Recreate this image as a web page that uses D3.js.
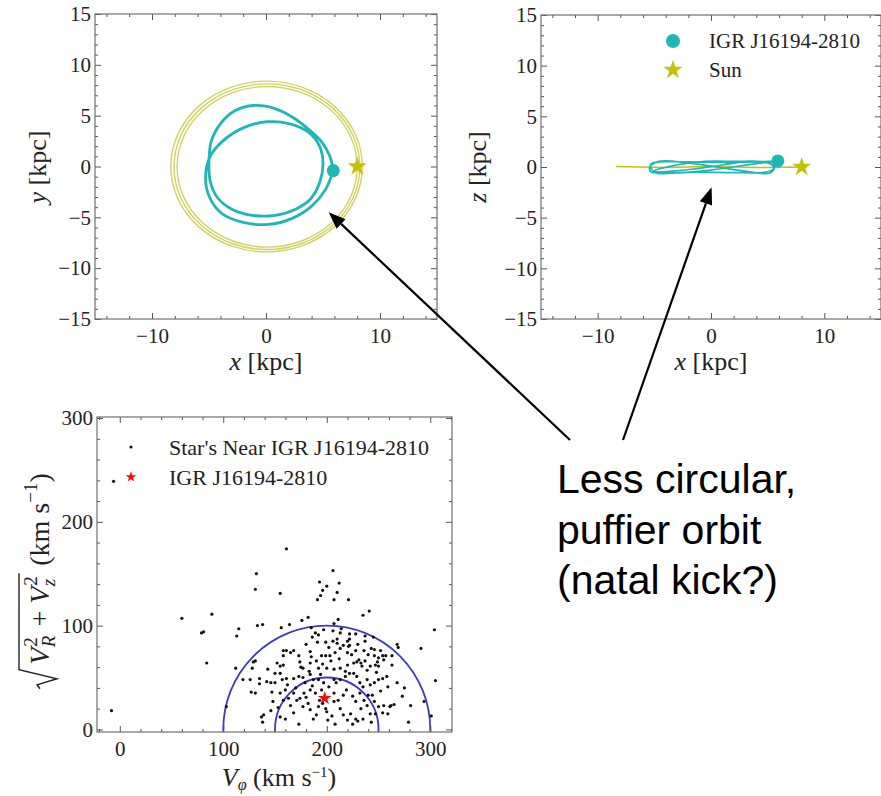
<!DOCTYPE html>
<html lang="en">
<head>
<meta charset="UTF-8" />
<title>IGR J16194-2810 orbit</title>
<script src="https://cdn.jsdelivr.net/npm/d3@7"></script>
<style>
  body { margin: 0; background: #fff; }
  svg text { font-family: "Liberation Serif", "DejaVu Serif", serif; white-space: pre; }
</style>
</head>
<body>
<svg id="fig" width="881" height="796"></svg>
<script>
// ---- data ----
// cyan orbit, x-y plane [kpc]
var orbitXY = [
  [5.9,-0.4],[5.6,1.0],[4.9,2.4],[3.8,3.6],[2.4,4.8],[0.8,5.7],[-1.1,6.0],[-2.7,5.5],
  [-4.0,4.2],[-4.8,2.5],[-5.0,0.6],[-4.9,-1.4],[-4.3,-3.0],[-3.0,-4.2],[-1.2,-4.8],
  [0.8,-4.8],[2.6,-4.2],[3.9,-3.2],[4.7,-1.6],[5.0,0.3],[4.7,2.0],[3.7,3.4],[2.1,4.2],
  [0.1,4.4],[-2.0,3.8],[-3.8,2.5],[-4.9,1.0],[-5.3,-1.0],[-5.0,-2.9],[-3.9,-4.6],
  [-2.0,-5.5],[0.2,-5.7],[2.3,-5.1],[4.0,-3.9],[5.2,-2.3],[5.9,-0.4]
];
// cyan orbit, x-z plane [kpc]
var orbitXZ = [
  [5.9,0.6],[4.0,0.5],[1.0,0.45],[-2.0,0.5],[-4.5,0.5],[-5.3,0.3],[-5.2,-0.3],[-4.0,-0.55],
  [-1.0,-0.5],[2.0,-0.55],[4.8,-0.5],[5.5,-0.2],[5.3,0.3],[3.5,0.55],[1.0,0.2],[-1.5,-0.2],
  [-4.0,-0.45],[-5.3,-0.5],[-5.4,0.0],[-4.6,0.55],[-2.0,0.4],[0.5,0.0],[3.0,-0.4],[5.2,-0.6],
  [5.6,0.0],[4.6,0.5],[2.0,0.55],[-0.5,0.55],[-3.0,0.2],[-5.0,-0.4],[-4.8,-0.6],[-2.5,-0.55],
  [0.0,-0.3],[2.5,0.1],[4.8,0.45],[5.9,0.6]
];
// Sun orbit rings in x-y (centre x, centre y, radius) and its x-z track
var sunRingCx = [0.05, 0.08, 0.1];
var sunRingCy = [0.0, -0.02, -0.03];
var sunRingR  = [8.4, 8.15, 7.9];
var sunXZ = [[-8.4,0.05],[-4,-0.05],[0,0.05],[4,-0.05],[8.4,0.0]];
// current positions
var igrNow = { x: 5.9, y: -0.4, z: 0.6 };
var sunNow = { x: 8.0, y: 0.0, z: 0.0 };

// velocity panel: [V_phi, sqrt(V_R^2+V_z^2)] in km/s
var starsNear = [
  [-6,239],[-8,18],
  [161,174],[132,150],[131,135],[155,131],[206,153],[193,142],[200,138],[212,141],[196,134],
  [194,129],[191,125],[210,132],[207,125],[221,125],[241,114],[235,110],
  [60,107],[89,111],[81,94],[79,93],[84,64],[113,90],[115,97],[112,59],
  [133,100],[138,101],[156,98],[164,101],[176,105],[182,108],[185,98],[197,96],[207,102],
  [211,106],[214,97],
  [304,96],[305,47],[291,78],[294,27],[268,82],[269,79],[281,23],[279,7],[301,13],
  [186,89],[192,91],[206,95],[213,93],[222,92],[228,92],[237,90],[245,89],
  [191,84],[199,84],[206,85],[210,83],[216,81],[220,85],[222,87],[237,85],[246,77],[252,76],
  [158,76],[161,76],[165,74],[168,76],[158,71],[173,71],[184,75],[185,70],[195,71],[199,71],
  [203,71],[208,74],[213,78],[220,74],[222,81],[228,76],[231,67],[236,76],[240,72],[246,71],
  [250,69],[254,71],[257,71],
  [152,64],[155,61],[158,62],[174,65],[177,59],[184,64],[192,59],[200,59],[207,58],[213,59],
  [220,62],[226,64],[229,65],[234,61],[237,66],[242,61],[247,62],[250,61],[263,62],
  [126,48],[131,35],[135,49],[142,46],[146,45],[150,45],[155,54],[157,48],[161,49],[168,49],
  [173,51],[177,50],[179,45],[184,53],[187,48],[192,48],[194,53],[197,45],[202,41],[207,48],
  [209,45],[213,48],[218,51],[222,54],[226,54],[229,51],[232,45],[235,41],[239,48],[242,43],
  [246,45],[250,48],[254,49],[259,41],[268,45],[275,40],[273,32],
  [147,36],[155,35],[160,38],[163,30],[168,35],[171,28],[174,30],[178,35],[184,38],[189,35],
  [193,28],[195,38],[207,35],[211,28],[216,33],[219,38],[225,32],[228,27],[232,35],[236,28],
  [240,33],[246,27],[250,22],[255,23],[261,22],[265,24],
  [103,22],[153,21],[155,12],[158,28],[165,23],[168,16],[173,5],[177,22],[182,25],[184,19],
  [187,10],[192,22],[196,25],[199,20],[200,17],[201,9],[207,27],[208,5],[213,20],[216,14],
  [220,9],[223,15],[225,5],[228,10],[230,8],[233,20],[239,23],[242,15],[247,15],[254,16],
  [259,15],[262,23],
  [137,12],[139,14],[138,7],[148,27],
  [119,48],[128,59],[131,66],[127,36],[129,65],
  [189,93],[202,79],[210,87],[221,80],[233,64],[239,57],[249,65],[255,67],[263,71],[258,51],
  [180,82],[175,60],[183,56],[190,66],[196,63],[204,66],[212,68],[218,56],[224,72],[230,82],
  [243,78],[248,55],[252,37],[244,33],[186,42],[180,31],[170,40],[162,43],[150,54],[143,58],
  [135,44],[146,18],[160,10],[190,14],[205,13],[235,10],[243,7]
];
var igrVel = [198, 30];
var velCentre = 200;
var velRadii = [50, 100];

// ticks
var kpcXTicks = [-10, 0, 10];
var kpcYTicks = [-15, -10, -5, 0, 5, 10, 15];
var velTicks = [0, 100, 200, 300];

// ---- figure ----
var cyan = "#1fb6b6", olive = "#c2c20a", ringCol = "#d2d262";
var svg = d3.select("#fig");

var xXY = d3.scaleLinear().domain([-15, 15]).range([95, 437]);
var yXY = d3.scaleLinear().domain([-15, 15]).range([319, 14]);
var xXZ = d3.scaleLinear().domain([-15, 15]).range([541, 881]);
var yXZ = d3.scaleLinear().domain([-15, 15]).range([319, 15]);
var xV = d3.scaleLinear().domain([-22, 321]).range([97, 452]);
var yV = d3.scaleLinear().domain([-2.5, 301]).range([732, 417]);

function minors(lo, hi, step, majors) {
  return d3.range(lo, hi + step / 2, step).filter(function(v) { return majors.indexOf(v) < 0; });
}

function axes(x, y, xMaj, xMin, yMaj, yMin, xPad) {
  var x0 = x.range()[0], x1 = x.range()[1], yb = y.range()[0], yt = y.range()[1];
  var g = svg.append("g");
  function put(axis, tx, ty) {
    var a = g.append("g").attr("transform", "translate(" + tx + "," + ty + ")").call(axis);
    a.select(".domain").remove();
    a.selectAll("line").attr("stroke", "#555").attr("stroke-width", 1);
    a.attr("font-family", null).attr("font-size", null);
    return a;
  }
  put(d3.axisBottom(x).tickValues(xMin).tickSize(-3).tickFormat(""), 0, yb);
  put(d3.axisTop(x).tickValues(xMin).tickSize(-3).tickFormat(""), 0, yt);
  put(d3.axisLeft(y).tickValues(yMin).tickSize(-3).tickFormat(""), x0, 0);
  put(d3.axisRight(y).tickValues(yMin).tickSize(-3).tickFormat(""), x1, 0);
  put(d3.axisBottom(x).tickValues(xMaj).tickSize(-6).tickPadding(xPad), 0, yb);
  put(d3.axisTop(x).tickValues(xMaj).tickSize(-6).tickFormat(""), 0, yt);
  put(d3.axisLeft(y).tickValues(yMaj).tickSize(-6).tickPadding(4), x0, 0);
  put(d3.axisRight(y).tickValues(yMaj).tickSize(-6).tickFormat(""), x1, 0);
  g.selectAll("text").attr("font-size", 21).attr("fill", "#222");
  g.append("rect").attr("x", x0).attr("y", yt).attr("width", x1 - x0).attr("height", yb - yt)
    .attr("fill", "none").attr("stroke", "#707070").attr("stroke-width", 1.2);
}

function clipFor(id, x, y) {
  svg.append("clipPath").attr("id", id).append("rect")
    .attr("x", x.range()[0]).attr("y", y.range()[1])
    .attr("width", x.range()[1] - x.range()[0]).attr("height", y.range()[0] - y.range()[1]);
}
clipFor("cXY", xXY, yXY);
clipFor("cXZ", xXZ, yXZ);
clipFor("cV", xV, yV);

var star = d3.symbol().type(d3.symbolStar);

// ---- panel 1: x-y ----
var p1 = svg.append("g").attr("clip-path", "url(#cXY)");
p1.selectAll("ellipse.ring").data(sunRingR).enter().append("ellipse")
  .attr("class", "ring")
  .attr("cx", function(d, i) { return xXY(sunRingCx[i]); })
  .attr("cy", function(d, i) { return yXY(sunRingCy[i]); })
  .attr("rx", function(d) { return xXY(d) - xXY(0); })
  .attr("ry", function(d) { return yXY(0) - yXY(d); })
  .attr("fill", "none").attr("stroke", ringCol).attr("stroke-width", 1.4);
p1.append("path").datum(orbitXY)
  .attr("d", d3.line().x(function(d) { return xXY(d[0]); }).y(function(d) { return yXY(d[1]); })
    .curve(d3.curveCatmullRom))
  .attr("fill", "none").attr("stroke", cyan).attr("stroke-width", 2.8);
p1.append("circle").attr("cx", xXY(igrNow.x)).attr("cy", yXY(igrNow.y)).attr("r", 6.5).attr("fill", cyan);
p1.append("path").attr("d", star.size(115)())
  .attr("transform", "translate(" + xXY(sunNow.x) + "," + yXY(sunNow.y) + ")").attr("fill", olive);
axes(xXY, yXY, kpcXTicks, minors(-14, 14, 2, kpcXTicks), kpcYTicks, minors(-15, 15, 1, kpcYTicks), 9);

// ---- panel 2: x-z ----
var p2 = svg.append("g").attr("clip-path", "url(#cXZ)");
p2.append("path").datum(sunXZ)
  .attr("d", d3.line().x(function(d) { return xXZ(d[0]); }).y(function(d) { return yXZ(d[1]); }))
  .attr("fill", "none").attr("stroke", olive).attr("stroke-width", 1.5);
p2.append("path").datum(orbitXZ)
  .attr("d", d3.line().x(function(d) { return xXZ(d[0]); }).y(function(d) { return yXZ(d[1]); })
    .curve(d3.curveCatmullRom.alpha(0.5)))
  .attr("fill", "none").attr("stroke", cyan).attr("stroke-width", 1.7);
p2.append("circle").attr("cx", xXZ(igrNow.x)).attr("cy", yXZ(igrNow.z)).attr("r", 6.5).attr("fill", cyan);
p2.append("path").attr("d", star.size(115)())
  .attr("transform", "translate(" + xXZ(sunNow.x) + "," + yXZ(sunNow.z) + ")").attr("fill", olive);
axes(xXZ, yXZ, kpcXTicks, minors(-14, 14, 2, kpcXTicks), kpcYTicks, minors(-15, 15, 1, kpcYTicks), 9);

// legend panel 2
svg.append("circle").attr("cx", 673).attr("cy", 41).attr("r", 7).attr("fill", cyan);
svg.append("path").attr("d", star.size(115)()).attr("transform", "translate(673,70)").attr("fill", olive);
svg.append("text").attr("x", 709).attr("y", 41).attr("dy", "0.35em").attr("font-size", 21).attr("fill", "#222").text("IGR J16194-2810");
svg.append("text").attr("x", 709).attr("y", 70).attr("dy", "0.35em").attr("font-size", 21).attr("fill", "#222").text("Sun");

// ---- panel 3: velocities ----
var p3 = svg.append("g").attr("clip-path", "url(#cV)");
p3.selectAll("ellipse.vc").data(velRadii).enter().append("ellipse")
  .attr("class", "vc")
  .attr("cx", xV(velCentre)).attr("cy", yV(0))
  .attr("rx", function(d) { return xV(velCentre + d) - xV(velCentre); })
  .attr("ry", function(d) { return yV(0) - yV(d); })
  .attr("fill", "none").attr("stroke", "#3a3ac4").attr("stroke-width", 1.8);
p3.selectAll("circle.star").data(starsNear).enter().append("circle")
  .attr("class", "star")
  .attr("cx", function(d) { return xV(d[0]); })
  .attr("cy", function(d) { return yV(d[1]); })
  .attr("r", 1.6).attr("fill", "#111");
p3.append("path").attr("d", star.size(60)())
  .attr("transform", "translate(" + xV(igrVel[0]) + "," + yV(igrVel[1]) + ")").attr("fill", "#f01010");
axes(xV, yV, velTicks, minors(-20, 320, 20, velTicks), velTicks, minors(0, 300, 20, velTicks), 9);

// legend panel 3
svg.append("circle").attr("cx", 131).attr("cy", 447).attr("r", 1.6).attr("fill", "#111");
svg.append("path").attr("d", star.size(36)()).attr("transform", "translate(131,477)").attr("fill", "#f01010");
svg.append("text").attr("x", 169).attr("y", 447).attr("dy", "0.35em").attr("font-size", 22).attr("fill", "#222").text("Star's Near IGR J16194-2810");
svg.append("text").attr("x", 169).attr("y", 477).attr("dy", "0.35em").attr("font-size", 22).attr("fill", "#222").text("IGR J16194-2810");

// ---- axis labels ----
function kpcLabel(x, y, rot, v) {
  var t = svg.append("text").attr("transform", "translate(" + x + "," + y + ")" + (rot ? " rotate(-90)" : ""))
    .attr("text-anchor", "middle").attr("font-size", 26).attr("fill", "#222");
  t.append("tspan").attr("font-style", "italic").text(v);
  t.append("tspan").text(" [kpc]");
}
kpcLabel(266, 370, false, "x");
kpcLabel(46, 167, true, "y");
kpcLabel(711, 370, false, "x");
kpcLabel(486, 167, true, "z");

var xl = svg.append("text").attr("x", 279).attr("y", 786).attr("text-anchor", "middle")
  .attr("font-size", 26).attr("fill", "#222");
xl.append("tspan").attr("font-style", "italic").text("V");
xl.append("tspan").attr("font-style", "italic").attr("font-size", 16).attr("dy", 4).text("φ");
xl.append("tspan").attr("dy", -4).text(" (km s");
xl.append("tspan").attr("font-size", 15).attr("dy", -9).text("−1");
xl.append("tspan").attr("dy", 9).text(")");

var yg = svg.append("g").attr("transform", "translate(49,571) rotate(-90)");
var yt = yg.append("text").attr("font-size", 28).attr("fill", "#222");
yt.append("tspan").attr("font-style", "italic").text("V");
yt.append("tspan").attr("font-size", 19).attr("dx", 1).attr("dy", -12).text("2");
yt.append("tspan").attr("font-style", "italic").attr("font-size", 19).attr("dx", -10).attr("dy", 18).text("R");
yt.append("tspan").attr("dy", -6).attr("dx", 2).text(" + ");
yt.append("tspan").attr("font-style", "italic").text("V");
yt.append("tspan").attr("font-size", 19).attr("dx", 1).attr("dy", -12).text("2");
yt.append("tspan").attr("font-style", "italic").attr("font-size", 19).attr("dx", -10).attr("dy", 18).text("z");
yt.append("tspan").attr("dy", -6).attr("dx", 6).text(" (km s");
yt.append("tspan").attr("font-size", 19).attr("dy", -12).text("−1");
yt.append("tspan").attr("dy", 12).text(")");
var tw = yt.node().getComputedTextLength();
var rad = 24, total = rad + tw + 10, start = -total / 2;
yt.attr("x", start + rad);
var barEnd = Math.max(yt.node().getEndPositionOfChar(7).x, yt.node().getEndPositionOfChar(8).x) + 3;
yg.append("path")
  .attr("d", "M" + start + ",-9 L" + (start + 4) + ",-12 L" + (start + 10) + ",8 L" + (start + 19) + ",-30 L" + barEnd + ",-30")
  .attr("fill", "none").attr("stroke", "#222").attr("stroke-width", 1.4);

// ---- annotation ----
var note = svg.append("text")
  .style("font-family", "'Liberation Sans', Arial, sans-serif")
  .attr("font-size", 41).attr("fill", "#000");
["Less circular,", "puffier orbit", "(natal kick?)"].forEach(function(s, i) {
  note.append("tspan").attr("x", 557).attr("y", 493 + i * 50.5).text(s);
});

function arrow(x1, y1, x2, y2) {
  var a = Math.atan2(y2 - y1, x2 - x1), L = 17, w = 6.5;
  var bx = x2 - L * Math.cos(a), by = y2 - L * Math.sin(a);
  var nx = -Math.sin(a), ny = Math.cos(a);
  svg.append("line").attr("x1", x1).attr("y1", y1).attr("x2", bx).attr("y2", by)
    .attr("stroke", "#000").attr("stroke-width", 2.2);
  svg.append("path").attr("d", "M" + x2 + "," + y2 + "L" + (bx + w * nx) + "," + (by + w * ny) + "L" + (bx - w * nx) + "," + (by - w * ny) + "Z")
    .attr("fill", "#000");
}
arrow(570, 440, xXY(5.5), yXY(-4.5));
arrow(623, 440, xXZ(0.05), yXZ(-2.0));
</script>
</body>
</html>
